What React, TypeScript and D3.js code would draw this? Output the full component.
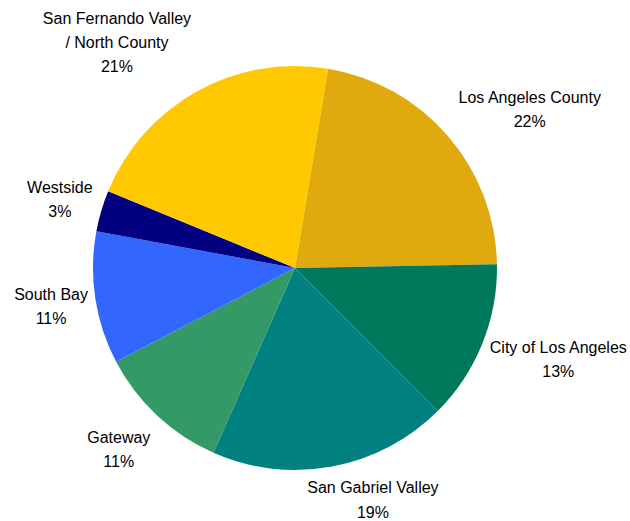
import React from "react";
import * as d3 from "d3";

const categories = [
  "Los Angeles County",
  "City of Los Angeles",
  "San Gabriel Valley",
  "Gateway",
  "South Bay",
  "Westside",
  "San Fernando Valley\n/ North County",
];
const values = [22.1, 12.8, 19.1, 10.7, 10.6, 3.3, 21.4];
const colors = ["#E0AA0F", "#00785C", "#008080", "#339966", "#3366FF", "#000080", "#FFC800"];

const W = 630;
const H = 521;
const CX = 295;
const CY = 268;
const R = 202;
const START = (9.4 * Math.PI) / 180;
const FONT = 16;
const LINE = 24.2;
const FONT_FAMILY = "'Liberation Sans', Arial, sans-serif";
// small layout nudges (px) applied after the automatic outside placement
const NUDGE: [number, number][] = [
  [8, 6], [-12, -3], [24, -16], [1, -3], [18, 1], [15, 3], [-31, 5],
];

let ctx: CanvasRenderingContext2D | null = null;
function measure(t: string): number {
  if (!ctx) {
    const c = document.createElement("canvas");
    ctx = c.getContext("2d");
  }
  if (!ctx) return t.length * FONT * 0.5;
  ctx.font = `${FONT}px ${FONT_FAMILY}`;
  return ctx.measureText(t).width;
}

export default function App() {
  const pie = d3
    .pie<number>()
    .sort(null)
    .value((d) => d)
    .startAngle(START)
    .endAngle(START + 2 * Math.PI);
  const arcs = pie(values);
  const arc = d3.arc<d3.PieArcDatum<number>>().innerRadius(0).outerRadius(R);
  const total = d3.sum(values);

  return (
    <svg width={W} height={H} style={{ position: "absolute", left: 0, top: 0 }}>
      <rect width={W} height={H} fill="#fff" />
      <g transform={`translate(${CX},${CY})`}>
        {arcs.map((a, i) => (
          <path key={i} d={arc(a) || ""} fill={colors[i]} />
        ))}
      </g>
      {arcs.map((a, i) => {
        const lines = [...categories[i].split("\n"), `${Math.round((values[i] / total) * 100)}%`];
        const mid = (a.startAngle + a.endAngle) / 2;
        const s = Math.sin(mid);
        const c = Math.cos(mid);
        const w = d3.max(lines, (l) => measure(l)) || 0;
        const h = lines.length * LINE;
        const ar = R + 26;
        const x = CX + s * ar + (w / 2) * s + NUDGE[i][0];
        const y = CY - c * ar - (h / 2) * c + NUDGE[i][1];
        const y0 = y - ((lines.length - 1) * LINE) / 2;
        return (
          <text key={i} textAnchor="middle" fontFamily={FONT_FAMILY} fontSize={FONT} fill="#000">
            {lines.map((l, j) => (
              <tspan key={j} x={x} y={y0 + j * LINE} dy="0.35em">
                {l}
              </tspan>
            ))}
          </text>
        );
      })}
    </svg>
  );
}
